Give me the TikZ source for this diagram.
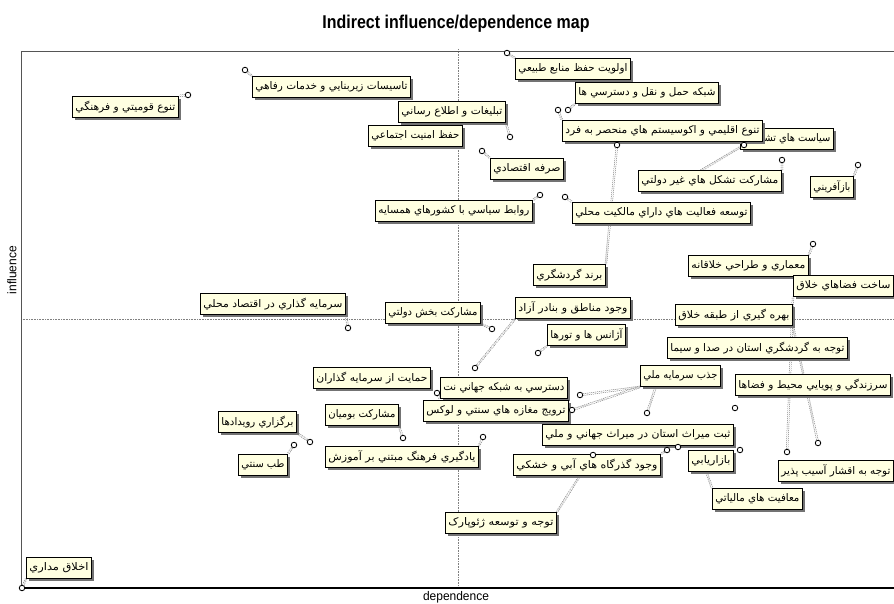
\documentclass[tikz,border=0pt]{standalone}
\usepackage{fontspec}
\usepackage{graphicx}
\usetikzlibrary{shadows,calc}
\setmainfont{Liberation Sans}
\newfontfamily\fa[Script=Arabic]{DejaVu Sans}
\TeXXeTstate=1
\definecolor{lby}{HTML}{FFFFE1}
\definecolor{axg}{HTML}{555555}
\pgfdeclarelayer{back}
\pgfdeclarelayer{bg}
\pgfsetlayers{back,bg,main}
\tikzset{
  lbox/.style={draw=black, line width=0.9pt, fill=lby, inner xsep=3pt, inner ysep=0pt,
    minimum height=21pt, anchor=north west,
    drop shadow={shadow xshift=2.2pt, shadow yshift=-2.2pt, fill=black!55, opacity=1}},
  pt/.style={circle, draw=black, fill=white, line width=0.85pt, inner sep=0pt, minimum size=5.5pt},
  conn/.style={draw=black!55, line width=0.5pt, dash pattern=on 1pt off 1pt, double=white, double distance=1.2pt},
  axis/.style={draw=axg, line width=1pt},
  mid/.style={draw=gray, line width=0.6pt, densely dotted}
}
\newcommand\lb[5]{%
  \pgfmathsetlengthmacro\lbw{#4-6}%
  \node[lbox, minimum width=#4pt] (#1) at (#2,#3)
    {\resizebox{\lbw}{\height}{\fontsize{10.5}{12}\fa #5}};}
\newcommand\pc[4]{% name, x, y, target
  \node[pt] (#1) at (#2,#3) {};
  \begin{pgfonlayer}{bg}\draw[conn] (#1) -- (#4);\end{pgfonlayer}}
\begin{document}
\begin{tikzpicture}[x=1pt,y=-1pt]
\useasboundingbox (0,0) rectangle (894,604);
\begin{pgfonlayer}{back}
\fill[white] (0,0) rectangle (894,604);
\end{pgfonlayer}
% title and axis labels
\node (title) at (456,24) {\resizebox{267pt}{\height}{\fontsize{18.5}{20}\selectfont\bfseries Indirect influence/dependence map}};
\node (dep) at (456,597) {\resizebox{66pt}{\height}{\fontsize{12.5}{14}\selectfont dependence}};
\node[rotate=90] (inf) at (12,270) {\resizebox{48pt}{\height}{\fontsize{12.5}{14}\selectfont influence}};
% frame and mid lines
\coordinate (tl) at (21,52);
\coordinate (tr) at (894,52);
\coordinate (bl) at (21,588);
\coordinate (br) at (894,588);
\coordinate (vt) at (458,49);
\coordinate (vb) at (458,588);
\coordinate (hl) at (21,319);
\coordinate (hr) at (894,319);
\begin{pgfonlayer}{bg}
\draw[mid] (vt) -- (vb);
\draw[mid] (hl) -- (hr);
\draw[axis] (tl) -- (tr);
\draw[axis] (tl) -- (bl);
\draw[draw=black, line width=1.1pt] (bl) -- (br);
\end{pgfonlayer}
% labels
\lb{n1}{72}{96}{106}{\beginR تنوع قوميتي و فرهنگي\endR}
\lb{n2}{252}{76}{158}{\beginR تاسيسات زيربنايي و خدمات رفاهي\endR}
\lb{n3}{398}{101}{107}{\beginR تبليغات و اطلاع رساني\endR}
\lb{n4}{368}{125}{94}{\beginR حفظ امنيت اجتماعي\endR}
\lb{n5}{515}{58}{115}{\beginR اولويت حفظ منابع طبيعي\endR}
\lb{n6}{575}{82}{143}{\beginR شبکه حمل و نقل و دسترسي ها\endR}
\lb{n8}{740}{128}{93}{\beginR سياست هاي تشويقي\endR}
\lb{n7}{562}{120}{200}{\beginR تنوع اقليمي و اکوسيستم هاي منحصر به فرد\endR}
\lb{n9}{490}{158}{73}{\beginR صرفه اقتصادي\endR}
\lb{n10}{638}{170}{143}{\beginR مشارکت تشکل هاي غير دولتي\endR}
\lb{n11}{810}{176}{43}{\beginR بازآفريني\endR}
\lb{n12}{375}{200}{157}{\beginR روابط سياسي با کشورهاي همسايه\endR}
\lb{n13}{572}{202}{178}{\beginR توسعه فعاليت هاي داراي مالکيت محلي\endR}
\lb{n14}{533}{264}{72}{\beginR برند گردشگري\endR}
\lb{n15}{688}{255}{120}{\beginR معماري و طراحي خلاقانه\endR}
\lb{n16}{793}{275}{100}{\beginR ساخت فضاهاي خلاق\endR}
\lb{n17}{200}{293}{145}{\beginR سرمايه گذاري در اقتصاد محلي\endR}
\lb{n18}{385}{302}{95}{\beginR مشارکت بخش دولتي\endR}
\lb{n19}{515}{297}{115}{\beginR وجود مناطق و بنادر آزاد\endR}
\lb{n20}{547}{324}{78}{\beginR آژانس ها و تورها\endR}
\lb{n21}{675}{304}{117}{\beginR بهره گيري از طبقه خلاق\endR}
\lb{n22}{667}{337}{180}{\beginR توجه به گردشگري استان در صدا و سيما\endR}
\lb{n23}{640}{365}{80}{\beginR جذب سرمايه ملي\endR}
\lb{n24}{313}{367}{117}{\beginR حمايت از سرمايه گذاران\endR}
\lb{n25}{440}{377}{127}{\beginR دسترسي به شبکه جهاني نت\endR}
\lb{n26}{735}{374}{155}{\beginR سرزندگي و پويايي محيط و فضاها\endR}
\lb{n27}{423}{400}{145}{\beginR ترويج مغازه هاي سنتي و لوکس\endR}
\lb{n28}{325}{404}{73}{\beginR مشارکت بوميان\endR}
\lb{n29}{218}{411}{78}{\beginR برگزاري رويدادها\endR}
\lb{n30}{542}{424}{191}{\beginR ثبت ميراث استان در ميراث جهاني و ملي\endR}
\lb{n31}{238}{454}{49}{\beginR طب سنتي\endR}
\lb{n32}{325}{446}{153}{\beginR يادگيري فرهنگ مبتني بر آموزش\endR}
\lb{n33}{688}{450}{45}{\beginR بازاريابي\endR}
\lb{n34}{513}{454}{147}{\beginR وجود گذرگاه هاي آبي و خشکي\endR}
\lb{n35}{778}{460}{115}{\beginR توجه به اقشار آسيب پذير\endR}
\lb{n36}{712}{488}{90}{\beginR معافيت هاي مالياتي\endR}
\lb{n37}{445}{512}{111}{\beginR توجه و توسعه ژئوپارک\endR}
\lb{n38}{26}{557}{65}{\beginR اخلاق مداري\endR}
% helper coordinates
\coordinate (c10) at (700,171);
\coordinate (c23) at (656,386);
\coordinate (c30) at (673,445);
\coordinate (c36) at (706,471);
\begin{pgfonlayer}{bg}\draw[conn] (c36) -- (n36.north west);\end{pgfonlayer}
% points and connectors
\pc{p1}{188}{95}{n1.north east}
\pc{p2}{245}{70}{n2.north west}
\pc{p3}{510}{137}{n3.south east}
\pc{p5}{507}{53}{n5.north west}
\pc{p6}{568}{110}{n6.south west}
\pc{p7}{558}{110}{n7.north west}
\pc{p9}{482}{151}{n9.north west}
\pc{p10}{782}{160}{n10.north east}
\pc{p10b}{744}{145}{c10}
\pc{p11}{858}{165}{n11.north east}
\pc{p12}{540}{195}{n12.north east}
\pc{p13}{565}{197}{n13.north west}
\pc{p14}{617}{145}{n14.north east}
\pc{p15}{813}{244}{n15.north east}
\pc{p16}{787}{452}{n16.south west}
\pc{p17}{348}{328}{n17.south east}
\pc{p18}{492}{329}{n18.south east}
\pc{p19}{475}{368}{n19.south west}
\pc{p20}{538}{353}{n20.south west}
\pc{p21}{818}{443}{n21.south east}
\pc{p23}{647}{413}{c23}
\pc{p23b}{580}{395}{n23.south west}
\pc{p27}{572}{410}{n23.south west}
\pc{p25}{437}{393}{n25.south west}
\pc{p26}{735}{408}{n26.south west}
\pc{p28}{403}{438}{n28.south east}
\pc{p29}{310}{442}{n29.south east}
\pc{p30}{678}{447}{c30}
\pc{p31}{294}{445}{n31.north east}
\pc{p32}{483}{437}{n32.north east}
\pc{p33}{740}{450}{n33.north east}
\pc{p34}{667}{450}{n34.north east}
\pc{p37}{593}{455}{n37.north east}
\pc{p38}{22}{588}{n38.south west}
\end{tikzpicture}
\end{document}
